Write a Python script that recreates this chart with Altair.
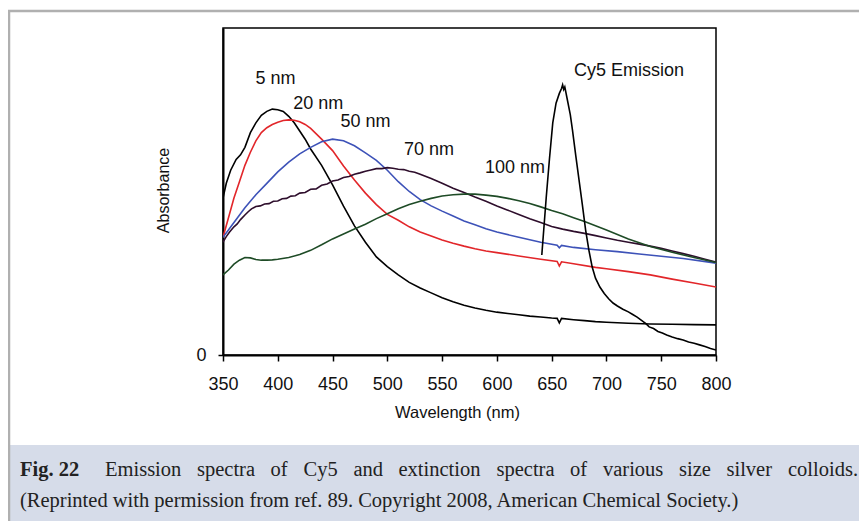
import altair as alt
import pandas as pd

# ---------------- data ----------------
x_ticks = [350, 400, 450, 500, 550, 600, 650, 700, 750, 800]

wl_5 = [350, 353, 357, 362, 366, 370, 375, 380, 385, 390, 395, 400, 405, 410, 415, 420, 425, 430,
        440, 450, 460, 470, 480, 490, 500, 510, 520, 530, 540, 550, 560, 570, 580, 590, 600, 610,
        620, 630, 640, 650, 655, 657, 659, 670, 680, 690, 700, 720, 740, 760, 780, 800]
ab_5 = [0.48, 0.525, 0.565, 0.598, 0.612, 0.635, 0.68, 0.71, 0.733, 0.745, 0.752, 0.75, 0.745, 0.73,
        0.71, 0.685, 0.66, 0.63, 0.58, 0.52, 0.455, 0.395, 0.345, 0.30, 0.27, 0.245, 0.222, 0.205,
        0.19, 0.175, 0.163, 0.152, 0.144, 0.137, 0.131, 0.127, 0.123, 0.119, 0.116, 0.113, 0.112,
        0.098, 0.112, 0.108, 0.105, 0.102, 0.100, 0.097, 0.095, 0.094, 0.093, 0.092]

wl_20 = [350, 355, 360, 365, 370, 375, 380, 385, 390, 395, 400, 405, 410, 415, 420, 425, 430, 440,
         450, 460, 470, 480, 490, 500, 510, 520, 530, 540, 550, 560, 570, 580, 590, 600, 620, 640,
         655, 657, 659, 670, 690, 700, 720, 740, 760, 780, 800]
ab_20 = [0.36, 0.42, 0.48, 0.53, 0.58, 0.62, 0.655, 0.68, 0.695, 0.705, 0.712, 0.717, 0.719, 0.718,
         0.713, 0.705, 0.693, 0.66, 0.625, 0.578, 0.535, 0.495, 0.46, 0.43, 0.412, 0.392, 0.376,
         0.364, 0.352, 0.342, 0.333, 0.325, 0.318, 0.313, 0.303, 0.293, 0.286, 0.272, 0.285, 0.279,
         0.268, 0.264, 0.255, 0.245, 0.232, 0.22, 0.208]

wl_50 = [350, 360, 370, 380, 390, 400, 410, 420, 430, 440, 450, 460, 470, 480, 490, 500, 510, 520,
         530, 540, 550, 560, 570, 580, 590, 600, 620, 640, 655, 657, 659, 670, 690, 710, 730, 750,
         770, 800]
ab_50 = [0.36, 0.405, 0.45, 0.49, 0.525, 0.56, 0.59, 0.615, 0.635, 0.652, 0.66, 0.655, 0.64, 0.618,
         0.595, 0.565, 0.53, 0.50, 0.475, 0.456, 0.44, 0.425, 0.41, 0.398, 0.386, 0.376, 0.36, 0.345,
         0.336, 0.328, 0.335, 0.329, 0.322, 0.316, 0.309, 0.302, 0.295, 0.281]

wl_70 = [350, 353, 356, 360, 363, 366, 370, 373, 376, 380, 384, 388, 392, 396, 400, 404, 408, 412,
         416, 420, 425, 430, 435, 440, 445, 450, 455, 460, 465, 470, 475, 480, 485, 490, 495, 500,
         505, 510, 515, 520, 525, 530, 540, 550, 560, 570, 580, 590, 600, 610, 620, 630, 640, 650,
         660, 670, 680, 690, 700, 710, 720, 730, 740, 750, 760, 770, 780, 790, 800]
ab_70 = [0.345, 0.362, 0.376, 0.392, 0.401, 0.414, 0.428, 0.438, 0.447, 0.454, 0.456, 0.462, 0.463,
         0.470, 0.471, 0.478, 0.479, 0.486, 0.487, 0.495, 0.497, 0.507, 0.508, 0.519, 0.523, 0.532,
         0.535, 0.543, 0.546, 0.553, 0.557, 0.562, 0.566, 0.570, 0.570, 0.573, 0.571, 0.568, 0.567,
         0.562, 0.559, 0.553, 0.54, 0.525, 0.51, 0.497, 0.483, 0.47, 0.456, 0.443, 0.43, 0.417,
         0.405, 0.393, 0.385, 0.378, 0.372, 0.365, 0.358, 0.351, 0.345, 0.339, 0.333, 0.326, 0.318,
         0.31, 0.302, 0.293, 0.284]

wl_100 = [350, 355, 360, 365, 370, 375, 380, 385, 390, 395, 400, 410, 420, 430, 440, 450, 460, 470,
          480, 490, 500, 510, 520, 530, 540, 550, 560, 570, 580, 590, 600, 610, 620, 630, 640, 650,
          660, 670, 680, 690, 700, 720, 740, 760, 780, 800]
ab_100 = [0.245, 0.26, 0.278, 0.29, 0.298, 0.297, 0.292, 0.29, 0.29, 0.291, 0.293, 0.298, 0.307,
          0.32, 0.337, 0.355, 0.37, 0.385, 0.40, 0.417, 0.432, 0.447, 0.46, 0.47, 0.479, 0.486, 0.49,
          0.492, 0.492, 0.489, 0.485, 0.479, 0.472, 0.463, 0.453, 0.442, 0.432, 0.42, 0.408, 0.395,
          0.382, 0.355, 0.332, 0.314, 0.298, 0.283]

wl_cy5 = [641, 645, 648, 651, 654, 657, 659, 660, 661, 662, 664, 667, 669, 672, 675, 678, 681, 684,
          687, 690, 694, 698, 702, 706, 710, 715, 720, 724, 728, 732, 736, 739, 743, 747, 751, 755,
          760, 765, 770, 775, 780, 785, 790, 795, 800]
ab_cy5 = [0.306, 0.48, 0.60, 0.71, 0.77, 0.80, 0.815, 0.826, 0.812, 0.82, 0.786, 0.735, 0.688, 0.61,
          0.535, 0.46, 0.382, 0.32, 0.269, 0.235, 0.208, 0.188, 0.172, 0.159, 0.15, 0.14, 0.132,
          0.124, 0.116, 0.106, 0.096, 0.086, 0.081, 0.072, 0.067, 0.061, 0.055, 0.05, 0.046, 0.04,
          0.036, 0.031, 0.026, 0.02, 0.015]

series_names = ["5 nm", "20 nm", "50 nm", "70 nm", "100 nm", "Cy5 Emission"]
series_colors = ["#000000", "#e2262a", "#3d52b8", "#2e0e2c", "#1e4b26", "#000000"]

label_text = ["5 nm", "20 nm", "50 nm", "70 nm", "100 nm", "Cy5 Emission"]
label_wl = [398, 437, 480, 538, 616.5, 720.5]
label_ab = [0.843, 0.767, 0.714, 0.627, 0.572, 0.869]

caption_line1 = ["Emission", "spectra", "of", "Cy5", "and", "extinction", "spectra", "of",
                 "various", "size", "silver", "colloids."]
caption_line2 = "(Reprinted with permission from ref. 89. Copyright 2008, American Chemical Society.)"

# ---------------- build tables ----------------
all_wl = [wl_5, wl_20, wl_50, wl_70, wl_100, wl_cy5]
all_ab = [ab_5, ab_20, ab_50, ab_70, ab_100, ab_cy5]
rows = []
for name, wls, abs_ in zip(series_names, all_wl, all_ab):
    for w, a in zip(wls, abs_):
        rows.append({"series": name, "wl": w, "ab": a})
df = pd.DataFrame(rows)
labels_df = pd.DataFrame({"text": label_text, "wl": label_wl, "ab": label_ab})
one = pd.DataFrame({"k": [0]})

FONT = "Liberation Sans"
SERIF = "Liberation Serif"
W, H = 493, 327
TOTW, TOTH = 851, 513
OX, OY = 223, 28  # page position of the plot origin

x_enc = alt.X("wl:Q", scale=alt.Scale(domain=[350, 800], nice=False, zero=False),
              axis=alt.Axis(values=x_ticks, title="Wavelength (nm)", grid=False,
                            labelFont=FONT, labelFontSize=18, labelColor="#111",
                            labelPadding=14, tickSize=6, tickColor="#000", tickWidth=1.5,
                            domainColor="#000", domainWidth=2,
                            titleFont=FONT, titleFontSize=16.5, titleFontWeight="normal",
                            titleColor="#111", titleX=234, titleY=57, titleBaseline="middle",
                            titleAlign="center", labelFlush=False))
y_enc = alt.Y("ab:Q", scale=alt.Scale(domain=[0, 1], nice=False),
              axis=alt.Axis(values=[0], format="d", title="Absorbance", grid=False,
                            labelFont=FONT, labelFontSize=18, labelColor="#111",
                            labelPadding=12, tickSize=5, tickColor="#000", tickWidth=1.5,
                            domainColor="#000", domainWidth=2,
                            titleFont=FONT, titleFontSize=16, titleFontWeight="normal",
                            titleColor="#111", titleX=-60, titleY=162, titleAngle=270,
                            titleBaseline="middle", titleAlign="center"))

# decorations (figure frame and caption box)
caption_bg = alt.Chart(one).mark_rect(color="#d6dce9").encode(
    x=alt.value(9 - OX), x2=alt.value(8 + TOTW - OX), y=alt.value(445 - OY), y2=alt.value(8 + TOTH - OY))
border_top = alt.Chart(one).mark_rule(color="#b0b0b0", strokeWidth=2.5).encode(
    x=alt.value(8 - OX), x2=alt.value(8 + TOTW - OX), y=alt.value(11 - OY))
border_left = alt.Chart(one).mark_rule(color="#b0b0b0", strokeWidth=2.5).encode(
    x=alt.value(9 - OX), y=alt.value(10 - OY), y2=alt.value(8 + TOTH - OY))

lines = alt.Chart(df).mark_line(strokeWidth=1.6, clip=True).encode(
    x=x_enc, y=y_enc,
    color=alt.Color("series:N", scale=alt.Scale(domain=series_names, range=series_colors),
                    legend=None),
    detail="series:N")

labels = alt.Chart(labels_df).mark_text(font=FONT, fontSize=18, color="#111",
                                        align="center", baseline="middle").encode(
    x="wl:Q", y="ab:Q", text="text:N")

CAP = 20.5
cap_layers = []
fig_lbl = alt.Chart(one).mark_text(font=SERIF, fontSize=CAP, fontWeight="bold", color="#222",
                                   align="left", baseline="alphabetic").encode(
    x=alt.value(20 - OX), y=alt.value(476 - OY), text=alt.value("Fig. 22"))
cap_layers.append(fig_lbl)
word_x = [105, 197, 270.5, 303.5, 353.5, 398.5, 496.5, 570, 603, 679, 726.5, 788]
for wd, px in zip(caption_line1, word_x):
    cap_layers.append(alt.Chart(one).mark_text(font=SERIF, fontSize=CAP, color="#222",
                                               align="left", baseline="alphabetic").encode(
        x=alt.value(px - OX), y=alt.value(476 - OY), text=alt.value(wd)))
cap_layers.append(alt.Chart(one).mark_text(font=SERIF, fontSize=CAP, color="#222",
                                           align="left", baseline="alphabetic").encode(
    x=alt.value(20 - OX), y=alt.value(507 - OY), text=alt.value(caption_line2)))

chart = alt.layer(caption_bg, border_top, border_left, lines, labels, *cap_layers).properties(
    width=W, height=H,
    padding={"left": OX - 8, "top": OY - 8, "right": TOTW - (OX - 8) - W,
             "bottom": TOTH - (OY - 8) - H},
    autosize=alt.AutoSizeParams(type="none"),
    background="white",
).configure_view(stroke="#000", strokeWidth=1.5)

chart.save("out.html", embed_options={"renderer": "svg", "actions": False})
